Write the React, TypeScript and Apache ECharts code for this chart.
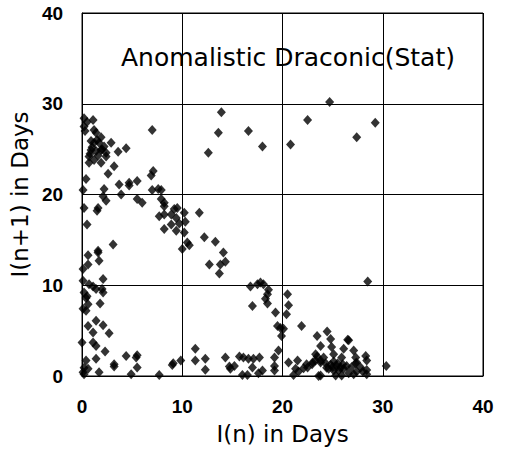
import React, { useEffect, useRef } from "react";
import * as echarts from "echarts";

const axisTicks = [0, 10, 20, 30, 40];
const titleText = "Anomalistic Draconic(Stat)";
const xAxisName = "I(n) in Days";
const yAxisName = "I(n+1) in Days";

const upperLeftCluster: number[][] = [
  [0.2, 28.4], [1.1, 28.2], [0.2, 27.5], [0.3, 27.0], [1.2, 27.1], [1.4, 26.8], [7.0, 27.1],
  [1.9, 26.3], [0.9, 25.9], [1.2, 25.7], [1.7, 25.7], [2.2, 25.3], [2.9, 25.7], [0.9, 24.9],
  [1.4, 24.8], [1.9, 24.9], [2.4, 24.6], [3.6, 24.7], [4.4, 25.1], [0.7, 24.2], [0.7, 23.5],
  [1.2, 23.8], [1.9, 23.5], [2.4, 24.2], [3.2, 23.1], [2.6, 22.3], [0.4, 21.7], [7.1, 22.6],
  [6.9, 22.1], [3.7, 21.1], [4.7, 21.3], [4.7, 21.0], [5.5, 21.5], [2.2, 20.6], [0.1, 20.5],
  [3.9, 20.0], [2.1, 19.8], [7.0, 20.5], [7.6, 20.6], [7.9, 20.5], [2.4, 19.3], [5.5, 19.5],
  [6.0, 19.1], [7.9, 19.5], [8.2, 19.1], [0.2, 18.5], [1.6, 18.5], [9.5, 18.5],
  [0.5, 28.0], [1.5, 26.0], [1.0, 25.2], [0.8, 24.5], [1.6, 24.3], [2.0, 25.0],
];

const middleDiagonal: number[][] = [
  [1.5, 18.2], [0.5, 16.7], [7.7, 17.6], [8.2, 17.8], [8.2, 18.7], [8.9, 17.8], [9.2, 18.4],
  [9.4, 17.4], [10.2, 18.0], [10.3, 17.0], [9.7, 16.8], [8.9, 16.7], [8.2, 16.2], [9.4, 16.0],
  [10.2, 15.8], [10.5, 14.7], [10.7, 14.4], [10.0, 14.0], [11.7, 18.0],
  [12.2, 15.3], [13.3, 14.8], [14.1, 13.6], [14.3, 12.6], [12.7, 12.3], [13.8, 12.3], [13.7, 11.3],
];

const leftColumn: number[][] = [
  [3.1, 14.5], [1.6, 13.8], [1.6, 13.6], [0.6, 13.3], [1.7, 12.7], [0.6, 12.3], [0.1, 11.8],
  [2.1, 10.7], [0.1, 10.5], [0.7, 10.1], [1.1, 9.85], [1.4, 9.6], [2.0, 9.6], [2.1, 9.2],
  [0.5, 8.8], [0.2, 9.2], [0.4, 8.6], [1.8, 8.0], [0.6, 7.9], [0.1, 7.4], [0.4, 7.2],
  [0.6, 5.5], [1.4, 6.1], [2.1, 5.6], [1.1, 4.8], [2.7, 4.7], [0.0, 3.7], [1.1, 3.7],
  [1.4, 3.3], [2.3, 2.7], [4.4, 2.2], [5.5, 2.3], [5.4, 2.05], [1.4, 1.9], [0.4, 1.7],
  [3.2, 1.05], [3.2, 1.3], [5.5, 0.95], [0.2, 0.9], [0.6, 0.8], [0.1, 0.4], [0.2, 0.2],
  [1.7, 0.4], [4.9, 0.2], [7.7, 0.1], [9.0, 1.2], [9.1, 1.4], [9.85, 1.7], [11.3, 3.0], [11.3, 1.7],
];

const upperRightScatter: number[][] = [
  [13.9, 29.05], [13.6, 26.8], [16.6, 27.0], [18.0, 25.3], [12.6, 24.6], [20.8, 25.5],
  [22.5, 28.2], [24.7, 30.2], [27.4, 26.3], [29.25, 27.9],
];

const loopCluster: number[][] = [
  [16.8, 9.85], [17.5, 10.1], [17.8, 10.3], [18.1, 10.1], [18.6, 9.5], [18.5, 9.0], [18.3, 8.5],
  [18.5, 8.0], [17.0, 7.7], [19.3, 7.0], [20.5, 9.0], [20.6, 7.8], [20.4, 6.8], [21.9, 5.5],
  [19.5, 5.5], [19.8, 5.3], [20.1, 5.2], [19.9, 4.4], [19.6, 2.8], [19.2, 2.05], [19.2, 1.1],
  [19.2, 0.6], [28.5, 10.4],
];

const bottomMiddle: number[][] = [
  [12.3, 1.9], [12.3, 0.7], [14.3, 2.05], [14.7, 1.05], [14.8, 0.8], [15.2, 1.1], [15.7, 2.15],
  [16.1, 2.05], [16.6, 1.9], [17.1, 1.9], [17.7, 2.05], [17.0, 0.95], [16.0, 0.1], [16.5, 0.1],
  [17.6, 0.3], [18.0, 0.6],
];

const bottomRight: number[][] = [
  [20.6, 1.5], [21.5, 1.7], [21.3, 0.8], [21.1, 0.1], [21.6, 0.5], [22.1, 0.85], [22.5, 0.95],
  [22.95, 1.3], [23.45, 4.4], [23.8, 3.3], [23.45, 2.15], [24.45, 4.9], [23.8, 1.5], [23.6, 0.0],
  [24.8, 4.07], [26.6, 3.95], [24.9, 3.2], [26.1, 3.0], [27.1, 2.8], [28.3, 2.2], [23.3, 2.4],
  [25.1, 2.4], [25.9, 2.05], [27.3, 2.05], [22.4, 1.3], [23.0, 1.5], [23.3, 1.7], [23.8, 1.7],
  [24.3, 1.4], [24.8, 1.25], [25.1, 1.6], [25.4, 1.1], [25.8, 0.9], [24.6, 0.8], [25.1, 0.6],
  [25.6, 0.6], [26.1, 0.8], [26.4, 1.1], [26.9, 1.0], [27.3, 1.4], [27.8, 0.95], [27.4, 0.5],
  [28.0, 0.5], [28.4, 0.65], [28.4, 0.2], [26.6, 0.3], [27.1, 0.2], [23.8, 0.05], [25.3, 0.05],
  [25.9, 0.05], [24.1, 2.05], [28.4, 1.7], [27.4, 1.5], [30.35, 1.1], [26.5, 4.0],
  [25.0, 1.0], [25.5, 1.4], [24.4, 0.9], [26.0, 1.3],
];

const allPoints = [
  ...upperLeftCluster,
  ...middleDiagonal,
  ...leftColumn,
  ...upperRightScatter,
  ...loopCluster,
  ...bottomMiddle,
  ...bottomRight,
];

export default function App() {
  const ref = useRef<HTMLDivElement>(null);

  useEffect(() => {
    if (!ref.current) return;
    const chart = echarts.init(ref.current, null, { renderer: "svg" });
    const tickFont = {
      color: "#000",
      fontSize: 19,
      fontWeight: "bold" as const,
      fontFamily: "Liberation Sans, Arial, sans-serif",
    };
    const nameFont = {
      color: "#000",
      fontSize: 23,
      fontFamily: "DejaVu Sans, sans-serif",
    };
    const axisCommon = {
      type: "value" as const,
      min: axisTicks[0],
      max: axisTicks[axisTicks.length - 1],
      interval: 10,
      nameLocation: "middle" as const,
      axisLine: { show: true, lineStyle: { color: "#000", width: 1 } },
      axisTick: { show: false },
      splitLine: { show: true, lineStyle: { color: "#000", width: 1 } },
    };
    chart.setOption({
      animation: false,
      backgroundColor: "#fff",
      grid: {
        left: 81,
        top: 13,
        width: 402,
        height: 364,
        show: true,
        borderColor: "#000",
        borderWidth: 1,
        backgroundColor: "transparent",
      },
      graphic: [
        {
          type: "text",
          x: 288,
          y: 57,
          z: 10,
          style: {
            text: titleText,
            fontSize: 25,
            fontFamily: "DejaVu Sans, sans-serif",
            fill: "#000",
            align: "center",
            verticalAlign: "middle",
          },
        },
      ],
      xAxis: {
        ...axisCommon,
        name: xAxisName,
        nameGap: 46,
        nameTextStyle: nameFont,
        axisLabel: { ...tickFont, margin: 21 },
      },
      yAxis: {
        ...axisCommon,
        name: yAxisName,
        nameGap: 42,
        nameTextStyle: nameFont,
        axisLabel: { ...tickFont, margin: 19 },
      },
      series: [
        {
          type: "scatter",
          data: allPoints,
          symbol: "diamond",
          symbolSize: [9, 10],
          itemStyle: { color: "#000" },
        },
      ],
    });
    return () => chart.dispose();
  }, []);

  return (
    <div
      ref={ref}
      style={{ position: "absolute", left: 0, top: 0, width: 506, height: 450 }}
    />
  );
}
